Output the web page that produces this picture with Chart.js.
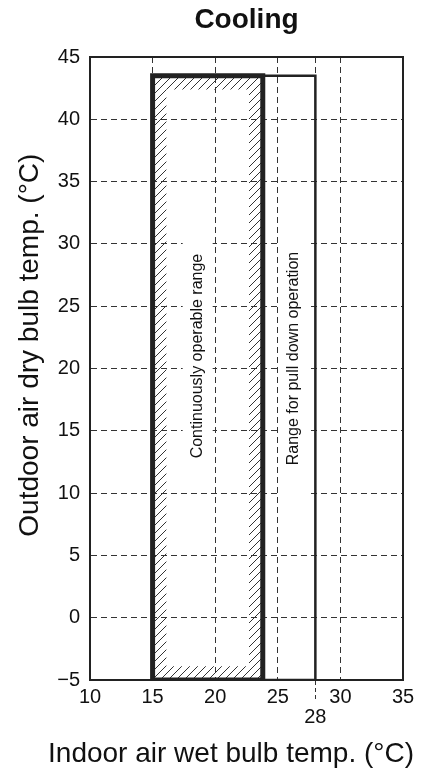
<!DOCTYPE html>
<html>
<head>
<meta charset="utf-8">
<script src="https://cdn.jsdelivr.net/npm/chart.js@4/dist/chart.umd.min.js"></script>
<style>
  body { margin: 0; background: #fff; }
  #wrap { width: 431px; height: 774px; position: relative; }
</style>
</head>
<body>
<div id="wrap"><canvas id="chart"></canvas></div>
<script>
// --- data ---
const xTicks = [10, 15, 20, 25, 28, 30, 35];
const yTicks = [-5, 0, 5, 10, 15, 20, 25, 30, 35, 40, 45];

// continuously operable range (x from..to, y from..to)
const contX = [15, 23.8];
const contY = [-5, 43.5];
// hatched inner edge of the continuous range
const hatchX = [16.1, 22.7];
const hatchY = [-3.9, 42.4];
// range for pull down operation
const pullX = [23.8, 28];
const pullY = [-5, 43.5];

const labels = ['Continuously operable range', 'Range for pull down operation'];
const labelX = [18.6, 26.3];
const labelY = [21, 20.8];

const INK = '#222';
const FONT = 'Arial, Helvetica, sans-serif';

function rectPoints(xs, ys) {
    return [
        { x: xs[0], y: ys[0] }, { x: xs[1], y: ys[0] },
        { x: xs[1], y: ys[1] }, { x: xs[0], y: ys[1] },
        { x: xs[0], y: ys[0] }
    ];
}

// diagonal hatch pattern
function makeHatch() {
    const c = document.createElement('canvas');
    c.width = 8; c.height = 8;
    const g = c.getContext('2d');
    g.strokeStyle = '#333';
    g.lineWidth = 1;
    g.beginPath();
    g.moveTo(0, 8); g.lineTo(8, 0);
    g.moveTo(-1, 1); g.lineTo(1, -1);
    g.moveTo(7, 9); g.lineTo(9, 7);
    g.stroke();
    return g.createPattern(c, 'repeat');
}

const hatchPlugin = {
    id: 'hatch',
    beforeDatasetsDraw(chart) {
        const { ctx, scales: { x, y } } = chart;
        const rect = (xs, ys) => {
            const l = x.getPixelForValue(xs[0]), r = x.getPixelForValue(xs[1]);
            const t = y.getPixelForValue(ys[1]), b = y.getPixelForValue(ys[0]);
            ctx.rect(l, t, r - l, b - t);
        };
        ctx.save();
        ctx.beginPath();
        rect(contX, contY);
        rect(hatchX, hatchY);
        ctx.fillStyle = makeHatch();
        ctx.fill('evenodd');
        ctx.restore();
    }
};

// vertical captions inside the ranges, on a white band that breaks the grid
const textPlugin = {
    id: 'boxText',
    beforeDatasetsDraw(chart) {
        const { ctx, scales: { x, y } } = chart;
        ctx.save();
        ctx.font = '16px ' + FONT;
        labels.forEach((txt, i) => {
            const cx = x.getPixelForValue(labelX[i]);
            const cy = y.getPixelForValue(labelY[i]);
            const half = ctx.measureText(txt).width / 2 + 30;
            ctx.fillStyle = '#fff';
            ctx.fillRect(cx - 15, cy - half, 30, half * 2);
        });
        ctx.restore();
    },
    afterDatasetsDraw(chart) {
        const { ctx, scales: { x, y } } = chart;
        ctx.save();
        ctx.fillStyle = '#111';
        ctx.font = '16px ' + FONT;
        ctx.textAlign = 'center';
        ctx.textBaseline = 'middle';
        labels.forEach((txt, i) => {
            ctx.save();
            ctx.translate(x.getPixelForValue(labelX[i]), y.getPixelForValue(labelY[i]));
            ctx.rotate(-Math.PI / 2);
            ctx.fillText(txt, 0, 0);
            ctx.restore();
        });
        ctx.restore();
    }
};

const gridDash = [6, 4];

new Chart(document.getElementById('chart'), {
    type: 'scatter',
    data: {
        datasets: [
            {
                data: rectPoints(contX, contY),
                showLine: true,
                borderColor: INK,
                borderWidth: 5,
                borderJoinStyle: 'miter',
                borderCapStyle: 'square',
                pointRadius: 0,
                fill: false
            },
            {
                data: rectPoints(pullX, pullY),
                showLine: true,
                borderColor: INK,
                borderWidth: 2.5,
                borderJoinStyle: 'miter',
                borderCapStyle: 'square',
                pointRadius: 0,
                fill: false
            }
        ]
    },
    options: {
        responsive: true,
        maintainAspectRatio: false,
        animation: false,
        layout: { padding: 0 },
        plugins: {
            legend: { display: false },
            tooltip: { enabled: false },
            // x axis caption sits below the axis, wider than the plot
            subtitle: {
                display: true,
                position: 'bottom',
                text: '    Indoor air wet bulb temp. (°C)',
                color: '#111',
                font: { family: FONT, size: 28, weight: 'normal', lineHeight: 1 },
                padding: { top: 0, bottom: 6 }
            }
        },
        scales: {
            x: {
                type: 'linear',
                position: 'bottom',
                min: 10,
                max: 35,
                afterBuildTicks: (s) => { s.ticks = xTicks.map(v => ({ value: v })); },
                afterFit: (s) => { s.height = 60; },
                grid: {
                    color: '#333',
                    lineWidth: 1,
                    drawTicks: true,
                    tickLength: 20,
                    tickColor: (c) => c.tick && c.tick.value === 28 ? '#333' : 'rgba(0,0,0,0)',
                    tickBorderDash: [4, 3],
                    tickWidth: 1
                },
                border: { display: true, color: INK, width: 2, dash: gridDash },
                ticks: {
                    color: '#111',
                    padding: -12.5,
                    maxRotation: 0,
                    autoSkip: false,
                    font: { family: FONT, size: 20, lineHeight: 1 },
                    callback: (v) => v === 28 ? ['', '28'] : String(v)
                }
            },
            x2: {
                type: 'linear',
                position: 'top',
                min: 10,
                max: 35,
                afterFit: (s) => { s.height = 57; },
                grid: { display: false },
                ticks: { display: false },
                border: { display: true, color: INK, width: 2 },
                title: {
                    display: true,
                    text: 'Cooling',
                    color: '#111',
                    font: { family: FONT, size: 28, weight: 'bold', lineHeight: 1 },
                    padding: { top: 6, bottom: 0 }
                }
            },
            y: {
                type: 'linear',
                position: 'left',
                min: -5,
                max: 45,
                afterBuildTicks: (s) => { s.ticks = yTicks.map(v => ({ value: v })); },
                afterFit: (s) => { s.width = 90; },
                grid: {
                    color: '#333',
                    lineWidth: 1,
                    drawTicks: false
                },
                border: { display: true, color: INK, width: 2, dash: gridDash },
                ticks: {
                    color: '#111',
                    padding: 10,
                    font: { family: FONT, size: 20 },
                    callback: (v) => v < 0 ? '\u2212' + Math.abs(v) : String(v)
                },
                title: {
                    display: true,
                    text: '      Outdoor air dry bulb temp. (°C)',
                    color: '#111',
                    font: { family: FONT, size: 28, lineHeight: 1 },
                    padding: { top: 16, bottom: 0 }
                }
            },
            y2: {
                type: 'linear',
                position: 'right',
                min: -5,
                max: 45,
                afterFit: (s) => { s.width = 28; },
                grid: { display: false },
                ticks: { display: false },
                border: { display: true, color: INK, width: 2 }
            }
        }
    },
    plugins: [hatchPlugin, textPlugin]
});
</script>
</body>
</html>
